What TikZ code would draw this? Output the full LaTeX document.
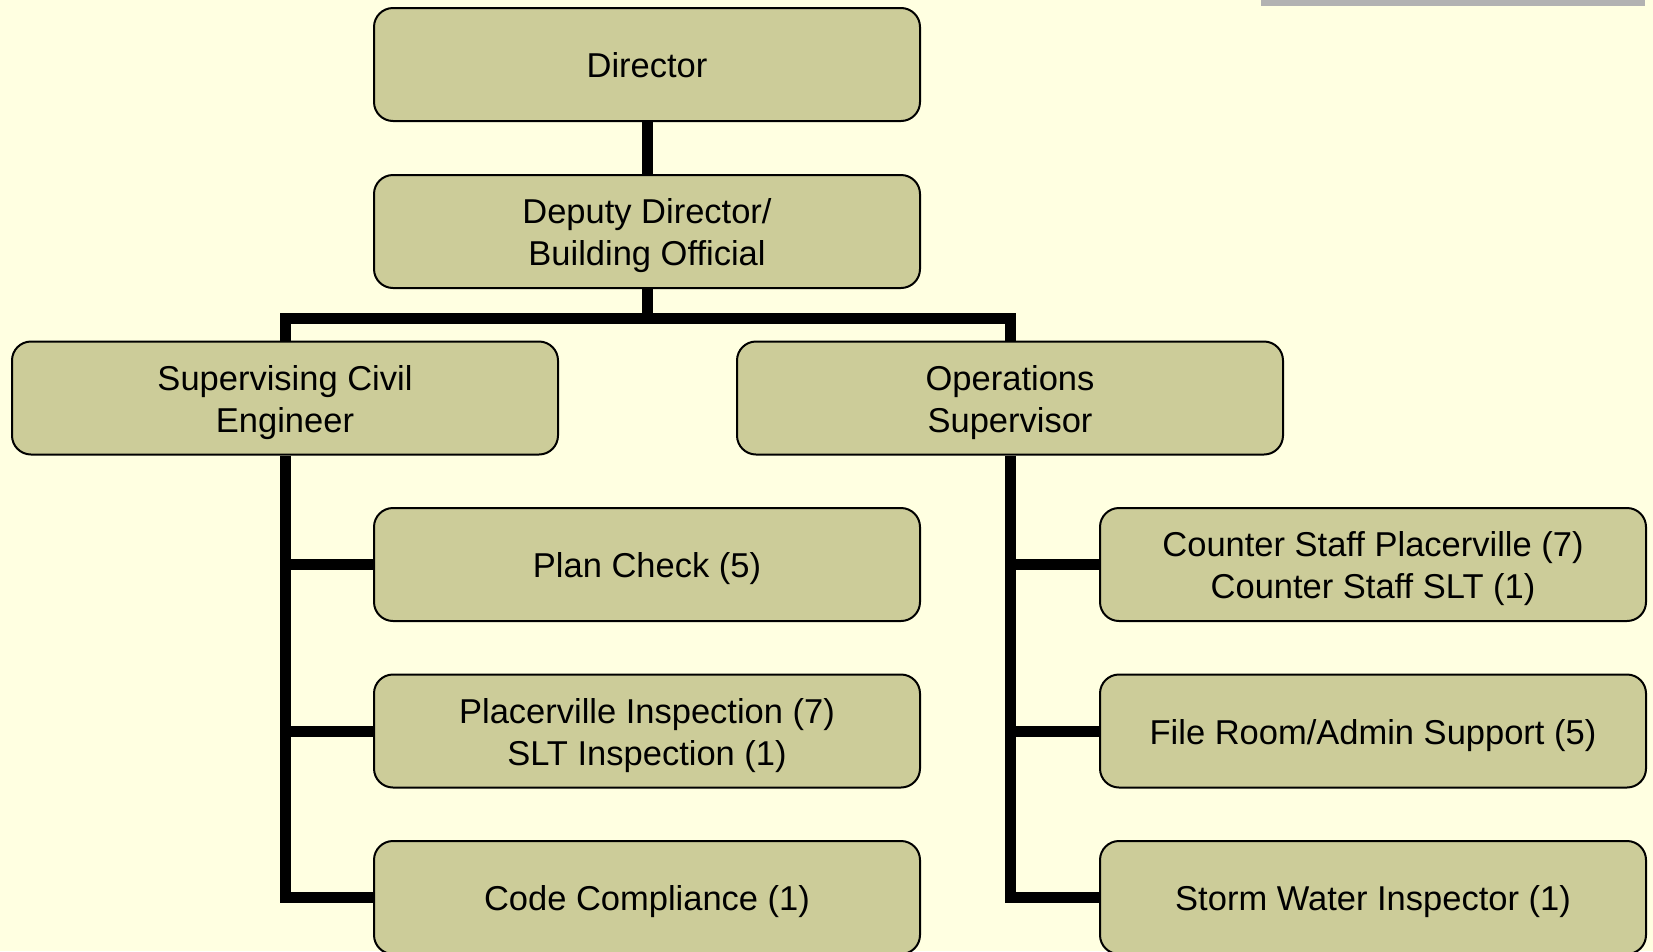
\documentclass[tikz,border=0pt]{standalone}
\usepackage{fontspec}
\setmainfont{Liberation Sans}
\usetikzlibrary{positioning}
\definecolor{paper}{HTML}{FFFFE1}
\definecolor{boxfill}{HTML}{CCCC99}
\newcommand\lift{\rule{0pt}{39.4pt}}
\tikzset{
  unit/.style={draw=black, line width=2pt, fill=boxfill, rounded corners=19pt,
    minimum width=546pt, minimum height=113pt, inner sep=0pt, align=center,
    font=\fontsize{34.5}{42}\selectfont,
    execute at begin node={\lift}, execute at end node={\strut}},
  link/.style={line width=11pt, line join=miter}
}

\begin{document}
\begin{tikzpicture}[x=1pt, y=-1pt]
		%%%%% START %%%%%
		\fill[paper] (0, 0) rectangle (1653, 951);
		\useasboundingbox (0, 0) rectangle (1653, 951);
		\clip (0, 0) rectangle (1653, 951);
		\fill[black!30] (1261, 0) rectangle (1645, 6);
		
		\node[unit] (dir) at (647, 64.5) {Director};
		\node[unit] (dep) at (647, 231.5) {\lift Deputy Director/\\Building Official};
		
		\node[unit] (civil) at (285, 398) {\lift Supervising Civil\\Engineer};
		\node[unit] (ops) at (1010, 398) {\lift Operations\\Supervisor};
		
		\node[unit] (plan) at (647, 564.5) {Plan Check (5)};
		\node[unit] (insp) at (647, 731) {\lift Placerville Inspection (7)\\SLT Inspection (1)};
		\node[unit] (code) at (647, 897.5) {Code Compliance (1)};
		
		\node[unit] (counter) at (1373, 564.5) {\lift Counter Staff Placerville (7)\\Counter Staff SLT (1)};
		\node[unit] (file) at (1373, 731) {File Room/Admin Support (5)};
		\node[unit] (storm) at (1373, 897.5) {Storm Water Inspector (1)};
		
		\coordinate (bar) at (647, 318);
		
		\draw[link] (dir.south) -- (dep.north);
		\draw[link] (dep.south) -- (bar);
		\draw[link] (civil.north) |- (bar) -| (ops.north);
		
		\draw[link] (civil.south) |- (code.west);
		\draw[link] (civil.south |- plan.west) -- (plan.west);
		\draw[link] (civil.south |- insp.west) -- (insp.west);
		
		\draw[link] (ops.south) |- (storm.west);
		\draw[link] (ops.south |- counter.west) -- (counter.west);
		\draw[link] (ops.south |- file.west) -- (file.west);
		%%%%% END %%%%%
\end{tikzpicture}
\end{document}
